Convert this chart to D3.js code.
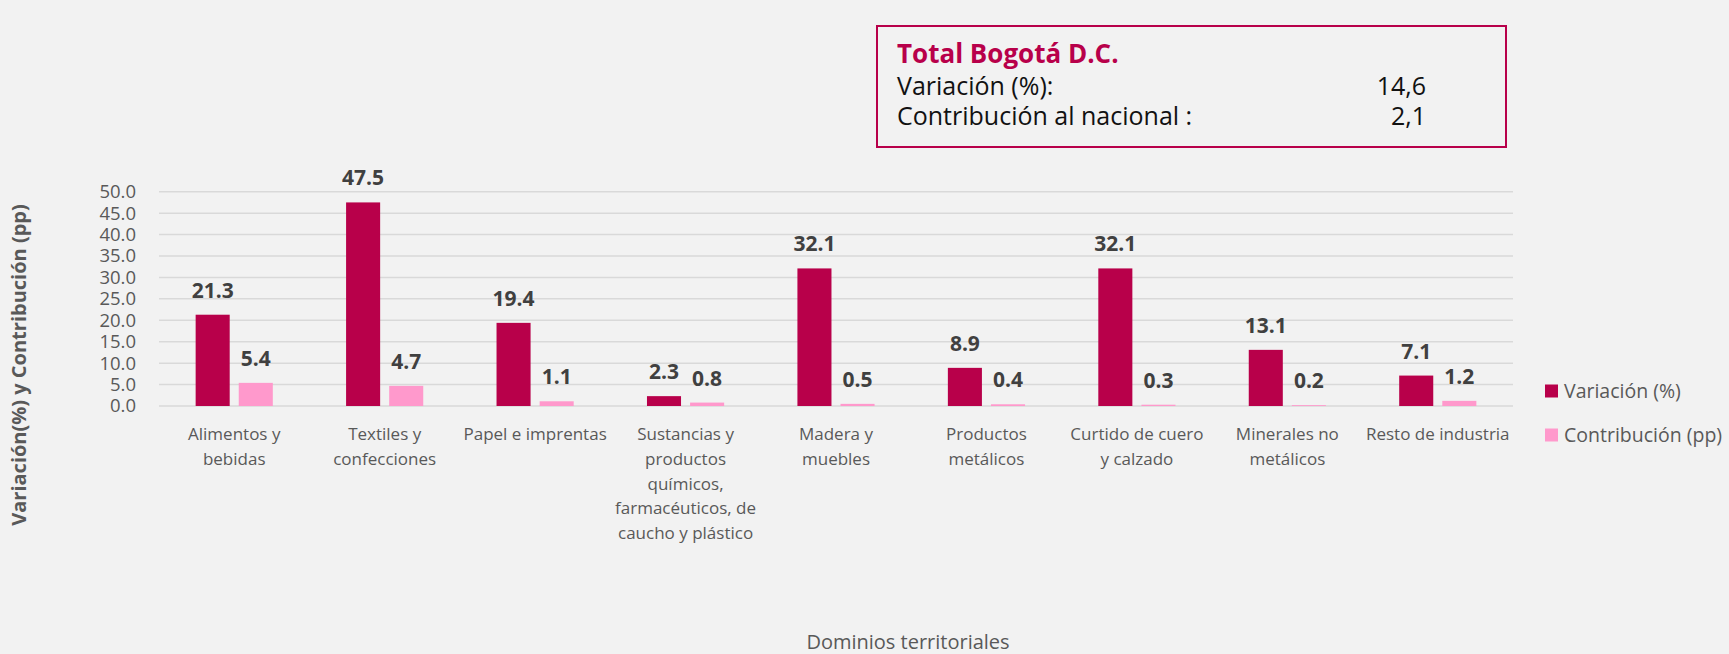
<!DOCTYPE html>
<html>
<head>
<meta charset="utf-8">
<title>Bogotá</title>
<script src="https://cdn.jsdelivr.net/npm/d3@7"></script>
<style>
  body { margin: 0; background: #f2f2f2; font-family: "Open Sans", "Noto Sans", sans-serif; }
  svg { display: block; }
</style>
</head>
<body>
<svg id="chart" width="1729" height="654"></svg>
<script>
// categories (line breaks as in the original wrapping)
const categories = [
  "Alimentos y\nbebidas",
  "Textiles y\nconfecciones",
  "Papel e imprentas",
  "Sustancias y\nproductos\nquímicos,\nfarmacéuticos, de\ncaucho y plástico",
  "Madera y\nmuebles",
  "Productos\nmetálicos",
  "Curtido de cuero\ny calzado",
  "Minerales no\nmetálicos",
  "Resto de industria"
];
const variacion = [21.3, 47.5, 19.4, 2.3, 32.1, 8.9, 32.1, 13.1, 7.1];
const contribucion = [5.4, 4.7, 1.1, 0.8, 0.5, 0.4, 0.3, 0.2, 1.2];
const seriesNames = ["Variación (%)", "Contribución (pp)"];
const seriesColors = ["#b8004a", "#ff99cc"];
const yTicks = [0, 5, 10, 15, 20, 25, 30, 35, 40, 45, 50];
const boxTitle = "Total Bogotá D.C.";
const boxRows = [["Variación (%):", "14,6"], ["Contribución al nacional :", "2,1"]];

const svg = d3.select("#chart");

let x0 = d3.scaleBand().domain(categories).range([159, 1513]).padding(0);
let x1 = d3.scaleBand().domain(seriesNames).range([0, x0.bandwidth()]).paddingInner(0.21).paddingOuter(0.85);
let y = d3.scaleLinear().domain([0, 50]).range([406, 191.7]);

// gridlines
svg.append("g").selectAll("line")
  .data(yTicks)
  .join("line")
    .attr("x1", 159).attr("x2", 1513)
    .attr("y1", d => y(d)).attr("y2", d => y(d))
    .style("stroke", "#d9d9d9")
    .style("stroke-width", 1.5);

// y tick labels
svg.append("g").selectAll("text")
  .data(yTicks)
  .join("text")
    .attr("x", 136)
    .attr("y", d => y(d))
    .attr("dy", "0.35em")
    .attr("text-anchor", "end")
    .style("font-size", "18.5px")
    .style("fill", "#595959")
    .text(d => d.toFixed(1));

// bars
let rows = categories.map((c, i) => ({cat: c, vals: [variacion[i], contribucion[i]]}));
let groups = svg.append("g").selectAll("g")
  .data(rows)
  .join("g")
    .attr("transform", d => `translate(${x0(d.cat)},0)`);

groups.selectAll("rect")
  .data(d => d.vals.map((v, k) => ({s: seriesNames[k], k: k, v: v})))
  .join("rect")
    .attr("x", d => x1(d.s))
    .attr("width", x1.bandwidth())
    .attr("y", d => y(d.v))
    .attr("height", d => y(0) - y(d.v))
    .style("fill", d => seriesColors[d.k]);

groups.selectAll("text.lbl")
  .data(d => d.vals.map((v, k) => ({s: seriesNames[k], k: k, v: v})))
  .join("text")
    .attr("class", "lbl")
    .attr("x", d => x1(d.s) + x1.bandwidth() / 2)
    .attr("y", d => y(d.v) - 17)
    .attr("text-anchor", "middle")
    .style("font-size", "21px")
    .style("font-weight", "bold")
    .style("fill", "#404040")
    .text(d => d.v.toFixed(1));

// category labels
svg.append("g").selectAll("text")
  .data(categories)
  .join("text")
    .attr("x", d => x0(d) + x0.bandwidth() / 2)
    .attr("y", 440)
    .attr("text-anchor", "middle")
    .style("font-size", "17px")
    .style("fill", "#595959")
    .each(function(d) {
      d3.select(this).selectAll("tspan")
        .data(d.split("\n"))
        .join("tspan")
          .attr("x", x0(d) + x0.bandwidth() / 2)
          .attr("dy", (t, i) => i === 0 ? 0 : 24.8)
          .text(t => t);
    });

// axis titles
svg.append("text")
  .attr("transform", "translate(26,365) rotate(-90)")
  .attr("text-anchor", "middle")
  .style("font-size", "20px")
  .style("font-weight", "bold")
  .style("fill", "#595959")
  .text("Variación(%) y Contribución (pp)");

svg.append("text")
  .attr("x", 908)
  .attr("y", 649)
  .attr("text-anchor", "middle")
  .style("font-size", "20px")
  .style("fill", "#595959")
  .text("Dominios territoriales");

// legend
let legend = svg.append("g").selectAll("g")
  .data(seriesNames)
  .join("g")
    .attr("transform", (d, i) => `translate(1545,${391 + i * 44})`);
legend.append("rect")
  .attr("x", 0).attr("y", -6.5)
  .attr("width", 13).attr("height", 13)
  .style("fill", (d, i) => seriesColors[i]);
legend.append("text")
  .attr("x", 19).attr("y", 0)
  .attr("dy", "0.35em")
  .style("font-size", "19.5px")
  .style("fill", "#595959")
  .text(d => d);

// summary box
let box = svg.append("g");
box.append("rect")
  .attr("x", 877).attr("y", 26)
  .attr("width", 629).attr("height", 121)
  .style("fill", "#f2f2f2")
  .style("stroke", "#b8004a")
  .style("stroke-width", 2);
box.append("text")
  .attr("x", 897).attr("y", 63)
  .style("font-size", "26px")
  .style("font-weight", "bold")
  .style("fill", "#b8004a")
  .text(boxTitle);
boxRows.forEach((r, i) => {
  box.append("text")
    .attr("x", 897).attr("y", 95 + i * 30)
    .style("font-size", "25px")
    .style("fill", "#111")
    .text(r[0]);
  box.append("text")
    .attr("x", 1426).attr("y", 95 + i * 30)
    .attr("text-anchor", "end")
    .style("font-size", "25px")
    .style("fill", "#111")
    .text(r[1]);
});
</script>
</body>
</html>
